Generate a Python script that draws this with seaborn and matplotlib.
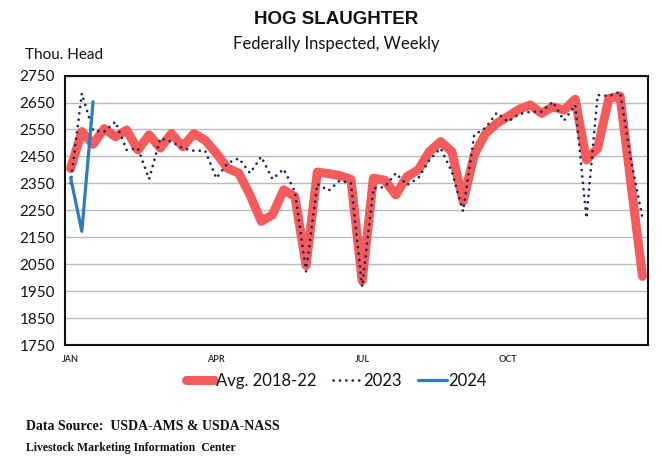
import numpy as np
import pandas as pd
import matplotlib
matplotlib.use("Agg")
import matplotlib.pyplot as plt
import seaborn as sns

weeks = list(range(52))
avg_2018_22 = [2405, 2542, 2495, 2553, 2523, 2548, 2474, 2530, 2481, 2535, 2486, 2535, 2510,
               2462, 2406, 2388, 2307, 2209, 2233, 2326, 2301, 2045, 2392, 2386, 2379, 2365,
               1988, 2369, 2362, 2307, 2375, 2400, 2468, 2505, 2468, 2283, 2456, 2535, 2573,
               2598, 2625, 2641, 2610, 2634, 2622, 2662, 2437, 2480, 2665, 2674, 2340, 2005]
y2023 = [2350, 2684, 2546, 2542, 2579, 2474, 2480, 2366, 2517, 2505, 2480, 2471, 2471,
         2369, 2425, 2443, 2388, 2449, 2366, 2403, 2320, 2023, 2348, 2323, 2360, 2351,
         1966, 2332, 2336, 2388, 2344, 2369, 2437, 2480, 2394, 2246, 2530, 2556, 2612,
         2579, 2607, 2616, 2616, 2653, 2583, 2641, 2221, 2678, 2674, 2690, 2430, 2221]
y2024 = [2372, 2172, 2653]
month_labels = ["JAN", "APR", "JUL", "OCT"]
month_weeks = [0, 13, 26, 39]
y_ticks = list(range(1750, 2751, 100))

sns.set_theme(style="white")
plt.rcParams['font.family'] = ['Lato', 'DejaVu Sans']

fig = plt.figure(figsize=(6.62, 4.61), dpi=100)
ax = fig.add_axes([0.0982, 0.2516, 0.8808, 0.5844])

df_avg = pd.DataFrame({"week": weeks, "value": avg_2018_22})
df_23 = pd.DataFrame({"week": weeks, "value": y2023})
df_24 = pd.DataFrame({"week": weeks[:len(y2024)], "value": y2024})

sns.lineplot(data=df_avg, x="week", y="value", ax=ax, color="#F45B5B", lw=6.5,
             label="Avg. 2018-22", solid_joinstyle="round", solid_capstyle="round", zorder=3)
sns.lineplot(data=df_23, x="week", y="value", ax=ax, color="#1B2A5E", lw=2.0,
             label="2023", zorder=4)
ax.lines[-1].set_dashes((0.01, 2.3))
ax.lines[-1].set_dash_capstyle("round")
sns.lineplot(data=df_24, x="week", y="value", ax=ax, color="#2E7BBF", lw=2.3,
             label="2024", zorder=5)

ax.set_xlim(-0.5, 51.5)
ax.set_ylim(1750, 2750)
ax.set_yticks(y_ticks)
ax.set_yticklabels([str(v) for v in y_ticks], fontsize=11, color="#111111")
ax.set_yticks(np.arange(1750, 2751, 20), minor=True)
ax.set_xticks(month_weeks)
ax.set_xticklabels(month_labels, fontsize=6.5, fontweight="bold", color="#333333")
ax.set_xticks(np.arange(-0.5, 52, 1), minor=True)
ax.tick_params(axis="x", which="major", length=0, pad=7)
ax.tick_params(axis="x", which="minor", length=3, width=0.8, direction="out", color="#222222")
ax.tick_params(axis="y", which="major", length=4, width=0.8, direction="out", color="#222222", pad=3)
ax.tick_params(axis="y", which="minor", length=3, width=0.7, direction="out", color="#222222")
ax.grid(axis="y", which="major", color="#BBBBBB", lw=1.0)
ax.set_axisbelow(True)
for s in ax.spines.values():
    s.set_color("#111111")
    s.set_linewidth(1.5)
ax.set_xlabel("")
ax.set_ylabel("")

leg = ax.legend(loc="center", bbox_to_anchor=(0.508, 0.174), bbox_transform=fig.transFigure,
                ncol=3, frameon=False, fontsize=12, handlelength=1.7,
                columnspacing=1.0, handletextpad=0.1)
for t in leg.get_texts():
    t.set_color("#111111")

fig.text(0.508, 0.957, "HOG SLAUGHTER", ha="center", va="center", fontsize=13.5,
         fontweight="bold", family=["Liberation Sans", "DejaVu Sans"], color="#111111")
fig.text(0.508, 0.905, "Federally Inspected, Weekly", ha="center", va="center",
         fontsize=12, color="#111111")
fig.text(0.038, 0.880, "Thou. Head", ha="left", va="center", fontsize=11, color="#111111")
fig.text(0.040, 0.074, "Data Source:  USDA-AMS & USDA-NASS", ha="left", va="center",
         fontsize=10, fontweight="bold", family=["Liberation Serif", "DejaVu Serif"], color="#111111")
fig.text(0.040, 0.028, "Livestock Marketing Information  Center", ha="left", va="center",
         fontsize=8.5, fontweight="bold", family=["Liberation Serif", "DejaVu Serif"], color="#111111")

fig.savefig("out.png", dpi=100)
